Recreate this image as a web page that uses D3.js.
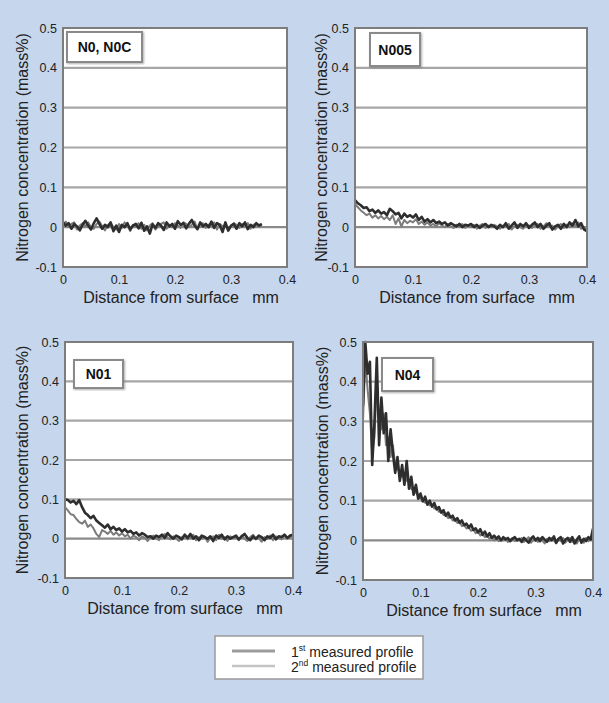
<!DOCTYPE html>
<html>
<head>
<meta charset="utf-8">
<script src="https://cdn.jsdelivr.net/npm/d3@7"></script>
<style>
  html, body { margin: 0; padding: 0; background: #c6d6ec; }
  svg { display: block; font-family: "Liberation Sans", Arial, sans-serif; }
</style>
</head>
<body>
<svg id="chart" width="609" height="703"></svg>
<script>
// tick labels
const yTicks = [-0.1, 0, 0.1, 0.2, 0.3, 0.4, 0.5];
const yTickLabels = ["-0.1", "0", "0.1", "0.2", "0.3", "0.4", "0.5"];
const xTicks = [0, 0.1, 0.2, 0.3, 0.4];
const xTickLabels = ["0", "0.1", "0.2", "0.3", "0.4"];
const panelNames = ["N0, N0C", "N005", "N01", "N04"];
const seriesNames = ["1st", "2nd"];

// sample spacing (mm) of the read-off profiles
const steps = [0.005, 0.005, 0.005, 0.004];

// N0, N0C
const n0First = [
  0.012, 0.004, 0.010, -0.004, 0.008, 0.002, -0.008, 0.006, 0.016, 0.004,
  -0.006, 0.010, 0.022, 0.008, -0.004, 0.006, 0.000, 0.012, -0.010, 0.004,
  -0.012, 0.006, 0.000, 0.010, -0.006, 0.004, 0.008, -0.003, 0.011, -0.009,
  0.002, -0.016, 0.007, -0.002, 0.010, 0.004, -0.007, 0.012, 0.002, 0.008,
  -0.004, 0.015, 0.006, 0.010, -0.003, 0.009, 0.018, 0.004, -0.005, 0.012,
  0.002, 0.008, 0.000, 0.014, -0.002, 0.010, 0.005, -0.012, 0.012, -0.008,
  0.004, 0.008, -0.004, 0.010, 0.002, 0.012, -0.005, 0.006, 0.000, 0.010,
  0.004, 0.008];
const n0Second = [
  0.006, 0.014, 0.000, 0.008, 0.012, -0.006, 0.004, 0.010, 0.002, 0.012,
  0.000, -0.004, 0.008, 0.014, 0.002, -0.008, 0.006, 0.010, 0.000, -0.006,
  0.008, -0.002, 0.012, 0.004, -0.010, 0.006, 0.002, 0.010, -0.004, 0.006,
  -0.008, 0.004, 0.010, -0.006, 0.002, 0.008, 0.012, -0.004, 0.006, 0.000,
  0.010, 0.004, -0.002, 0.012, 0.008, 0.000, 0.006, 0.014, -0.004, 0.008,
  0.010, -0.002, 0.006, 0.004, 0.012, -0.006, 0.008, 0.002, 0.006, -0.010,
  0.002, 0.010, 0.006, -0.002, 0.008, 0.004, 0.010, -0.004, 0.006, 0.008,
  0.002, 0.006];

// N005
const n005First = [
  0.068, 0.060, 0.055, 0.048, 0.050, 0.040, 0.044, 0.036, 0.042, 0.034,
  0.038, 0.030, 0.046, 0.040, 0.032, 0.036, 0.022, 0.034, 0.026, 0.030,
  0.024, 0.032, 0.018, 0.026, 0.014, 0.020, 0.012, 0.018, 0.010, 0.014,
  0.008, 0.012, 0.004, 0.010, 0.006, 0.002, 0.008, 0.000, 0.006, 0.004,
  0.008, 0.000, 0.006, -0.002, 0.004, 0.008, 0.000, 0.006, 0.002, -0.004,
  0.006, 0.000, 0.010, -0.004, 0.004, 0.012, -0.002, 0.008, 0.002, 0.010,
  -0.002, 0.006, 0.012, 0.000, 0.008, -0.004, 0.004, 0.010, -0.006, 0.002,
  0.006, -0.004, 0.008, 0.000, 0.012, 0.004, 0.018, 0.002, 0.010, -0.006,
  -0.010];
const n005Second = [
  0.058, 0.050, 0.042, 0.036, 0.030, 0.034, 0.024, 0.030, 0.022, 0.028,
  0.020, 0.026, 0.018, 0.030, 0.008, 0.022, 0.002, 0.018, 0.010, 0.016,
  0.012, 0.020, 0.008, 0.014, 0.006, 0.012, 0.004, 0.008, 0.002, 0.010,
  0.004, 0.000, 0.008, 0.002, -0.002, 0.006, 0.002, 0.008, -0.002, 0.004,
  0.000, 0.006, -0.004, 0.004, 0.008, -0.002, 0.004, 0.000, 0.006, 0.002,
  -0.004, 0.004, 0.002, 0.008, -0.006, 0.002, 0.006, 0.000, -0.004, 0.006,
  0.004, -0.002, 0.006, 0.008, -0.004, 0.002, 0.010, 0.000, 0.004, -0.006,
  0.002, 0.008, -0.002, 0.006, 0.000, 0.010, 0.004, 0.012, -0.004, 0.000,
  -0.012];

// N01
const n01First = [
  0.100, 0.098, 0.092, 0.096, 0.088, 0.098, 0.080, 0.066, 0.060, 0.052,
  0.058, 0.046, 0.040, 0.034, 0.028, 0.036, 0.024, 0.030, 0.022, 0.026,
  0.018, 0.024, 0.016, 0.020, 0.012, 0.016, 0.008, 0.014, 0.010, 0.004,
  0.006, 0.000, 0.008, 0.004, 0.010, 0.002, 0.014, 0.006, 0.000, 0.008,
  0.004, -0.002, 0.010, 0.002, 0.012, 0.000, 0.006, -0.004, 0.008, 0.004,
  0.000, 0.006, -0.006, 0.008, 0.002, 0.010, -0.002, 0.006, 0.000, 0.004,
  0.008, -0.002, 0.006, 0.012, 0.002, -0.004, 0.006, 0.000, 0.008, 0.004,
  -0.004, 0.006, 0.002, 0.010, -0.002, 0.006, 0.004, 0.010, 0.002, 0.008,
  0.010];
const n01Second = [
  0.080, 0.072, 0.062, 0.060, 0.050, 0.042, 0.038, 0.046, 0.030, 0.036,
  0.026, 0.012, 0.004, 0.022, 0.018, 0.012, 0.020, 0.010, 0.016, 0.008,
  0.014, 0.006, 0.010, 0.000, 0.008, 0.004, -0.004, 0.006, 0.002, -0.006,
  0.004, 0.008, 0.000, -0.004, 0.006, 0.012, 0.002, -0.002, 0.006, 0.000,
  -0.006, 0.004, 0.008, -0.002, 0.002, 0.010, -0.004, 0.004, 0.000, 0.006,
  -0.008, 0.002, 0.006, -0.004, 0.010, 0.000, 0.004, -0.006, 0.006, 0.002,
  0.004, -0.004, 0.008, 0.000, -0.006, 0.004, 0.010, -0.002, 0.002, -0.008,
  0.004, 0.000, 0.008, -0.004, 0.006, 0.002, -0.002, 0.008, 0.000, 0.004,
  0.006];

// N04
const n04First = [
  0.340, 0.500, 0.420, 0.450, 0.190, 0.300, 0.460, 0.240, 0.360, 0.270,
  0.320, 0.200, 0.280, 0.220, 0.170, 0.210, 0.150, 0.190, 0.140, 0.200,
  0.130, 0.160, 0.115, 0.140, 0.105, 0.118, 0.098, 0.110, 0.090, 0.100,
  0.085, 0.094, 0.078, 0.084, 0.070, 0.076, 0.062, 0.070, 0.058, 0.062,
  0.050, 0.056, 0.044, 0.050, 0.038, 0.042, 0.032, 0.040, 0.026, 0.030,
  0.020, 0.028, 0.014, 0.022, 0.010, 0.018, 0.006, 0.012, 0.004, 0.010,
  0.000, 0.008, 0.002, 0.006, -0.002, 0.004, 0.008, 0.000, 0.004, -0.004,
  0.006, 0.000, -0.006, 0.004, 0.010, 0.000, 0.006, -0.002, 0.008, 0.002,
  -0.004, 0.006, 0.000, 0.010, -0.006, 0.004, 0.008, -0.008, 0.002, 0.006,
  -0.004, 0.008, -0.008, 0.002, 0.010, -0.006, 0.004, -0.002, 0.008, 0.002,
  0.030];
const n04Second = [
  0.300, 0.460, 0.380, 0.320, 0.220, 0.260, 0.400, 0.300, 0.280, 0.320,
  0.240, 0.260, 0.210, 0.240, 0.190, 0.180, 0.170, 0.160, 0.170, 0.150,
  0.145, 0.130, 0.125, 0.120, 0.112, 0.105, 0.104, 0.095, 0.094, 0.088,
  0.090, 0.080, 0.082, 0.072, 0.074, 0.064, 0.066, 0.056, 0.060, 0.050,
  0.052, 0.044, 0.046, 0.036, 0.038, 0.030, 0.032, 0.024, 0.028, 0.018,
  0.022, 0.012, 0.016, 0.008, 0.012, 0.004, 0.008, 0.000, 0.006, -0.002,
  0.004, 0.000, 0.006, -0.004, 0.002, 0.006, -0.002, 0.004, 0.000, 0.006,
  -0.004, 0.002, 0.008, -0.006, 0.000, 0.004, -0.004, 0.006, 0.000, -0.008,
  0.004, -0.002, 0.006, 0.000, -0.008, 0.004, -0.002, 0.006, -0.006, 0.002,
  0.006, -0.004, 0.002, -0.008, 0.004, 0.000, -0.006, 0.006, -0.002, 0.004,
  0.010];

const profiles = [
  [n0First, n0Second],
  [n005First, n005Second],
  [n01First, n01Second],
  [n04First, n04Second]
];

// layout of the four plot areas
const frames = [
  { left: 63, right: 287, top: 28, bottom: 267, yTitleX: 22, box: [67, 32, 75, 30] },
  { left: 355, right: 587, top: 28, bottom: 267, yTitleX: 321, box: [370, 33, 50, 33] },
  { left: 65, right: 293, top: 342, bottom: 578, yTitleX: 22, box: [74, 360, 49, 28] },
  { left: 363, right: 593, top: 342, bottom: 580, yTitleX: 322, box: [382, 358, 51, 33] }
];

const lineStyles = [
  { color: "#2e2e2e", width: 2.6 },
  { color: "#7c7c7c", width: 2.0 }
];

const svg = d3.select("#chart");

const defs = svg.append("defs");
defs.append("filter").attr("id", "soft")
  .attr("filterUnits", "userSpaceOnUse")
  .attr("x", 0).attr("y", 0).attr("width", 609).attr("height", 703)
  .append("feGaussianBlur").attr("stdDeviation", 0.5);
defs.append("filter").attr("id", "shadow")
  .append("feDropShadow")
  .attr("dx", 1).attr("dy", 1).attr("stdDeviation", 0.8)
  .attr("flood-color", "#777").attr("flood-opacity", 0.6);

frames.forEach((f, p) => {
  const x = d3.scaleLinear().domain([0, 0.4]).range([f.left, f.right]);
  const y = d3.scaleLinear().domain([-0.1, 0.5]).range([f.bottom, f.top]);
  const g = svg.append("g");

  g.append("rect")
    .attr("x", f.left).attr("y", f.top)
    .attr("width", f.right - f.left).attr("height", f.bottom - f.top)
    .attr("fill", "#fff");

  // grid
  g.append("g")
    .attr("filter", "url(#soft)")
    .selectAll("line")
    .data(yTicks.filter(v => v > -0.1 && v < 0.5))
    .enter()
    .append("line")
    .attr("x1", f.left).attr("x2", f.right)
    .attr("y1", d => y(d)).attr("y2", d => y(d))
    .attr("stroke", d => d === 0 ? "#8a8a8a" : "#a6a6a6")
    .attr("stroke-width", 2.2);

  // profiles, 2nd under 1st
  const clipId = "clip" + p;
  defs.append("clipPath").attr("id", clipId)
    .append("rect")
    .attr("x", f.left).attr("y", f.top - 2)
    .attr("width", f.right - f.left + 1).attr("height", f.bottom - f.top + 2);

  const line = d3.line()
    .x((d, i) => x(i * steps[p]))
    .y(d => y(d));

  const traces = g.append("g")
    .attr("clip-path", "url(#" + clipId + ")")
    .attr("filter", "url(#soft)");

  [1, 0].forEach(s => {
    traces.append("path")
      .datum(profiles[p][s])
      .attr("d", line)
      .attr("fill", "none")
      .attr("stroke", lineStyles[s].color)
      .attr("stroke-width", lineStyles[s].width)
      .attr("stroke-linejoin", "round");
  });

  g.append("rect")
    .attr("x", f.left).attr("y", f.top)
    .attr("width", f.right - f.left).attr("height", f.bottom - f.top)
    .attr("fill", "none")
    .attr("stroke", "#7d7d7d")
    .attr("stroke-width", 2)
    .attr("filter", "url(#soft)");

  // axes
  const yAxis = d3.axisLeft(y)
    .tickValues(yTicks)
    .tickSize(0)
    .tickPadding(6)
    .tickFormat((d, i) => yTickLabels[i]);
  const ya = g.append("g")
    .attr("transform", "translate(" + f.left + ",0)")
    .call(yAxis);
  ya.select(".domain").remove();
  ya.selectAll("text")
    .attr("font-size", "12.5px")
    .attr("font-family", "Liberation Sans, Arial, sans-serif")
    .attr("fill", "#222");

  const xAxis = d3.axisBottom(x)
    .tickValues(xTicks)
    .tickSize(0)
    .tickPadding(8)
    .tickFormat((d, i) => xTickLabels[i]);
  const xa = g.append("g")
    .attr("transform", "translate(0," + f.bottom + ")")
    .call(xAxis);
  xa.select(".domain").remove();
  xa.selectAll("text")
    .attr("font-size", "12.5px")
    .attr("font-family", "Liberation Sans, Arial, sans-serif")
    .attr("fill", "#222");

  g.append("text")
    .attr("x", (f.left + f.right) / 2 + 6)
    .attr("y", f.bottom + 36)
    .attr("text-anchor", "middle")
    .attr("font-size", "16px")
    .attr("fill", "#222")
    .attr("xml:space", "preserve")
    .style("white-space", "pre")
    .text("Distance from surface   mm");

  g.append("text")
    .attr("transform", "translate(" + f.yTitleX + "," + (f.top + f.bottom) / 2 + ") rotate(-90)")
    .attr("text-anchor", "middle")
    .attr("dominant-baseline", "central")
    .attr("font-size", "16px")
    .attr("fill", "#222")
    .text("Nitrogen concentration (mass%)");

  // sample label
  const b = f.box;
  g.append("rect")
    .attr("x", b[0]).attr("y", b[1])
    .attr("width", b[2]).attr("height", b[3])
    .attr("fill", "#fff")
    .attr("stroke", "#8a8a8a")
    .attr("stroke-width", 2)
    .attr("filter", "url(#shadow)");
  g.append("text")
    .attr("x", b[0] + b[2] / 2)
    .attr("y", b[1] + b[3] / 2)
    .attr("text-anchor", "middle")
    .attr("dominant-baseline", "central")
    .attr("font-size", "14px")
    .attr("font-weight", "bold")
    .attr("fill", "#111")
    .text(panelNames[p]);
});

// legend
const legend = svg.append("g").attr("transform", "translate(215,636)");
legend.append("rect")
  .attr("width", 208).attr("height", 43)
  .attr("fill", "#fff")
  .attr("stroke", "#9a9a9a")
  .attr("stroke-width", 1.5);

const legendLines = [
  { color: "#9c9c9c", width: 3.2 },
  { color: "#c4c4c4", width: 2.4 }
];

seriesNames.forEach((name, i) => {
  const row = legend.append("g").attr("transform", "translate(0," + (15 + i * 15) + ")");
  row.append("line")
    .attr("x1", 17).attr("x2", 60)
    .attr("y1", 0).attr("y2", 0)
    .attr("stroke", legendLines[i].color)
    .attr("stroke-width", legendLines[i].width);
  const t = row.append("text")
    .attr("x", 76).attr("y", 6)
    .attr("font-size", "14px")
    .attr("fill", "#222");
  t.append("tspan").text(name.slice(0, 1));
  t.append("tspan")
    .attr("font-size", "8.5px")
    .attr("dy", -6)
    .text(name.slice(1));
  t.append("tspan")
    .attr("dy", 6)
    .text(" measured profile");
});
</script>
</body>
</html>
